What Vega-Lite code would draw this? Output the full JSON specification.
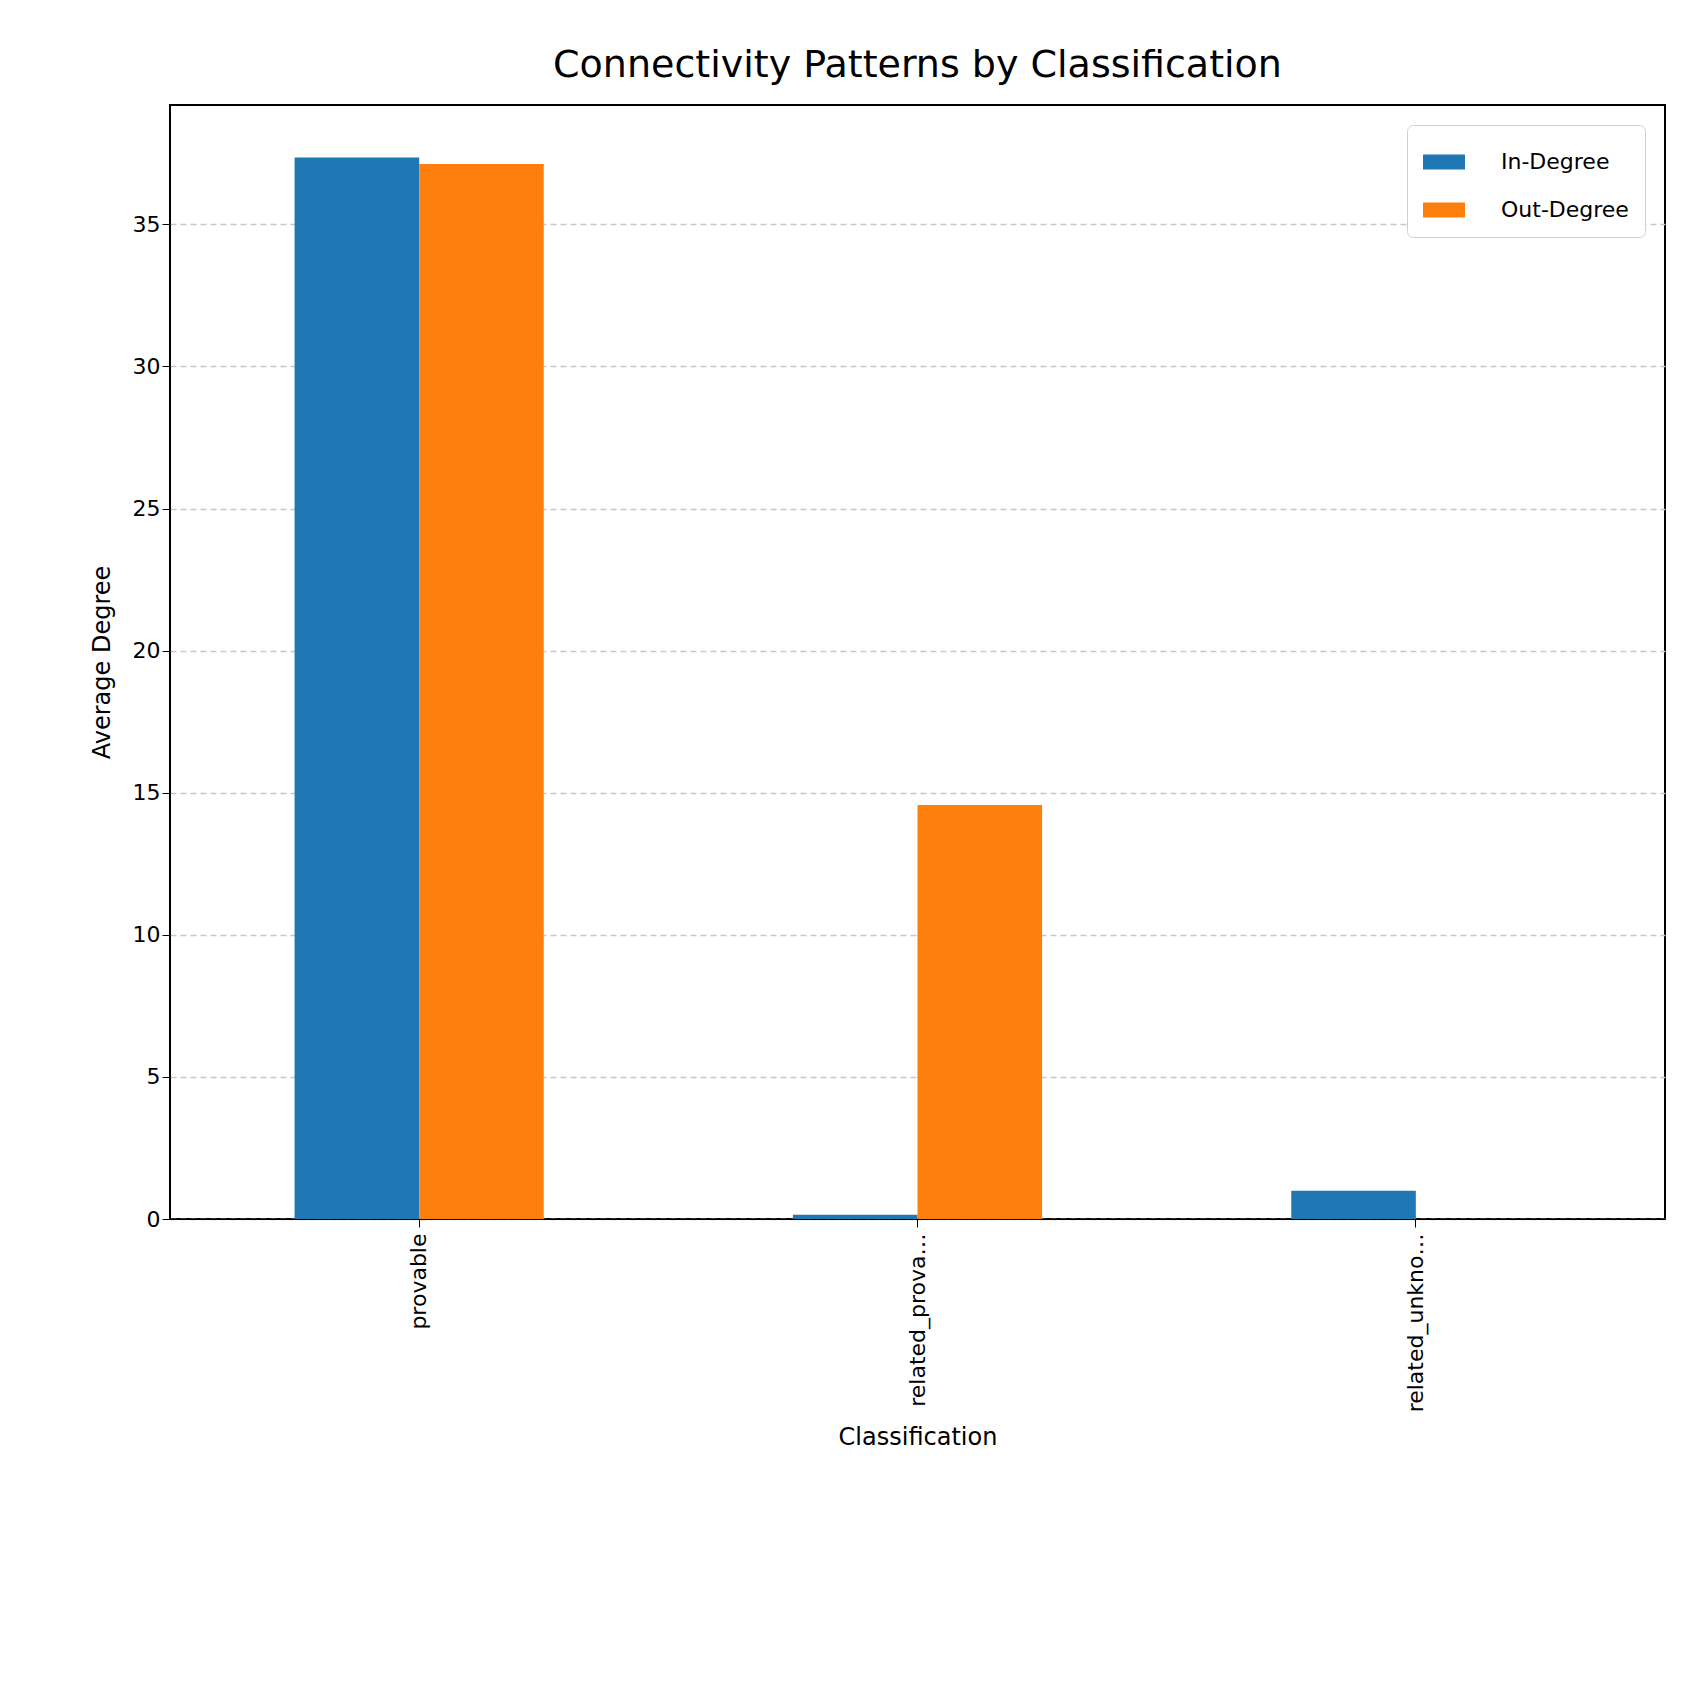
{
"$schema":"https://vega.github.io/schema/vega-lite/v6.json",
"autosize":"none","width":1495,"height":1114,
"padding":{"left":170,"top":105,"right":21,"bottom":467},
"background":"white",
"config":{"font":"DejaVu Sans","view":{"stroke":"black","strokeWidth":2}},
"title":{"text":"Connectivity Patterns by Classification","fontSize":38,"fontWeight":"normal","font":"DejaVu Sans","color":"black","offset":20},
"data":{"values":[
{"c":"provable","s":"In-Degree","v":37.35},
{"c":"provable","s":"Out-Degree","v":37.12},
{"c":"related_provable","s":"In-Degree","v":0.15},
{"c":"related_provable","s":"Out-Degree","v":14.57},
{"c":"related_unknown","s":"In-Degree","v":0.99},
{"c":"related_unknown","s":"Out-Degree","v":0}
]},
"mark":{"type":"bar"},
"encoding":{
"x":{"field":"c","type":"nominal","title":"Classification","scale":{"paddingInner":0.5,"paddingOuter":0.25},
 "axis":{"labelAngle":-90,"labelFontSize":22,"titleFontSize":24,"titleFontWeight":"normal","labelColor":"black","titleColor":"black","tickSize":8,"tickColor":"black","domainColor":"black","labelPadding":6,"titlePadding":14}},
"xOffset":{"field":"s","type":"nominal"},
"y":{"field":"v","type":"quantitative","title":"Average Degree","scale":{"domain":[0,39.2],"nice":false},
 "axis":{"values":[0,5,10,15,20,25,30,35],"labelFontSize":22,"titleFontSize":24,"titleFontWeight":"normal","labelColor":"black","titleColor":"black","tickSize":8,"tickColor":"black","domainColor":"black","gridDash":[6,4],"gridColor":"#c8c8c8","gridWidth":1.5,"titlePadding":18}},
"color":{"field":"s","type":"nominal","scale":{"range":["#1f77b4","#ff7f0e"]},
 "legend":{"title":null,"orient":"top-right","offset":20,"labelFontSize":22,"labelColor":"black","symbolType":"M-1,-0.36H1V0.36H-1Z","symbolSize":1764,"symbolStrokeWidth":0,"rowPadding":16,"padding":16,"strokeColor":"#d0d0d0","fillColor":"white","cornerRadius":6,"labelOffset":36}}
}
}
